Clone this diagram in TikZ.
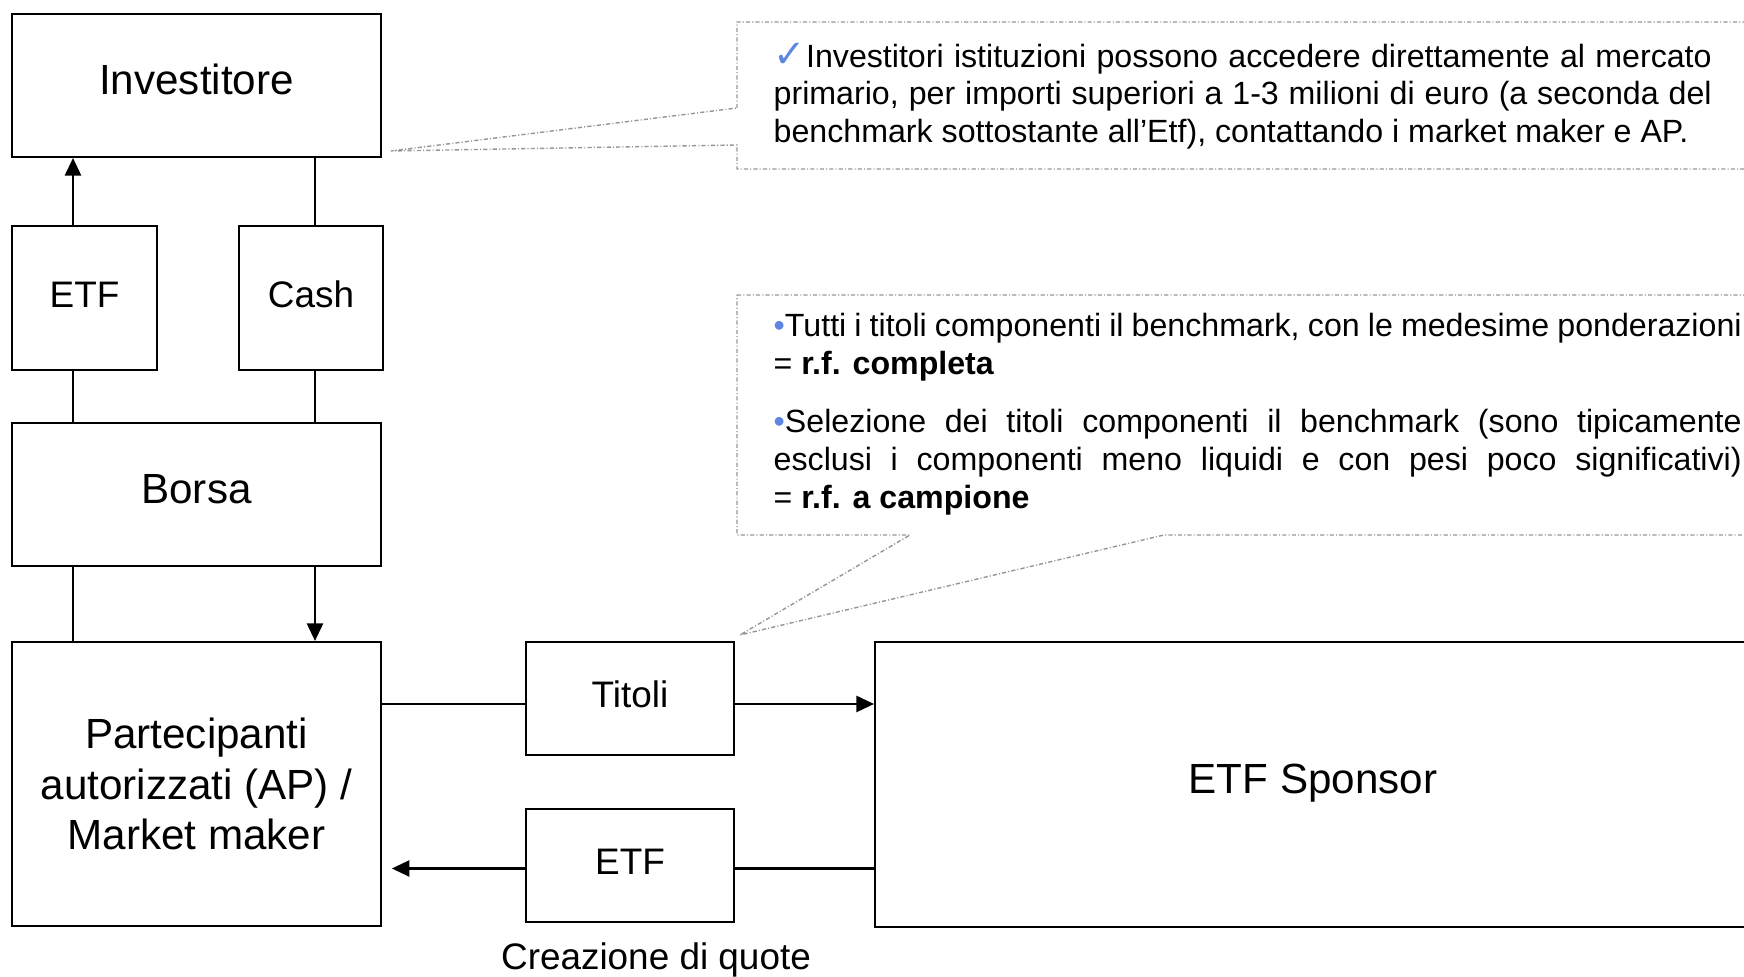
\documentclass[tikz,border=0pt]{standalone}
\usepackage{fontspec}
\setmainfont{Liberation Sans}
\newfontfamily\symfont{DejaVu Sans}
\usetikzlibrary{arrows.meta}
\definecolor{bulblue}{RGB}{95,135,225}
\definecolor{notegray}{RGB}{150,150,150}

\begin{document}
\begin{tikzpicture}[
  box/.style={draw, line width=0.6pt, inner sep=0pt, align=center},
  bigbox/.style={box, font=\fontsize{12}{14.4}\selectfont},
  smallbox/.style={box, font=\fontsize{10.5}{12.6}\selectfont},
  lift/.style={text height=1.5ex, text depth=0.5ex},
  flow/.style={line width=0.6pt},
  arr/.style={flow, -{Triangle[length=5pt,width=4.6pt]}},
  callout/.style={draw=notegray, line width=0.4pt, dash pattern=on 1.2pt off 0.6pt on 0.3pt off 0.6pt},
  note/.style={anchor=north west, inner sep=0pt, align=justify, font=\fontsize{9.15}{10.8}\selectfont}
]
\useasboundingbox (0,0) rectangle (17.44,9.77);

\node[bigbox, lift, minimum width=3.69cm, minimum height=1.43cm] (inv) at (1.965,8.915) {Investitore};
\node[smallbox, lift, minimum width=1.45cm, minimum height=1.44cm] (etfa) at (0.845,6.79) {ETF};
\node[smallbox, lift, minimum width=1.44cm, minimum height=1.44cm] (cash) at (3.11,6.79) {Cash};
\node[bigbox, lift, minimum width=3.69cm, minimum height=1.43cm] (borsa) at (1.965,4.825) {Borsa};
\node[bigbox, minimum width=3.69cm, minimum height=2.84cm] (ap) at (1.965,1.93) {Partecipanti\\autorizzati (AP) /\\Market maker};
\node[smallbox, lift, minimum width=2.08cm, minimum height=1.13cm] (titoli) at (6.30,2.785) {Titoli};
\node[smallbox, lift, minimum width=2.08cm, minimum height=1.13cm] (etfb) at (6.30,1.115) {ETF};
\node[bigbox, lift, minimum width=8.76cm, minimum height=2.85cm] (sponsor) at (13.13,1.925) {ETF Sponsor};
\node[font=\fontsize{10.5}{12.6}\selectfont] (creaz) at (6.56,0.17) {Creazione di quote};

\coordinate (colL) at (0.73,0);
\coordinate (colR) at (3.15,0);
\draw[arr] (etfa.north -| colL) -- (inv.south -| colL);
\draw[flow] (inv.south -| colR) -- (cash.north -| colR);
\draw[flow] (etfa.south -| colL) -- (borsa.north -| colL);
\draw[flow] (cash.south -| colR) -- (borsa.north -| colR);
\draw[flow] (borsa.south -| colL) -- (ap.north -| colL);
\draw[arr] (borsa.south -| colR) -- (ap.north -| colR);
\draw[flow] ([yshift=-0.055cm]ap.east |- titoli.west) -- ([yshift=-0.055cm]titoli.west);
\draw[arr] ([yshift=-0.055cm]titoli.east) -- ([yshift=-0.055cm]sponsor.west |- titoli.east);
\draw[flow] ([yshift=-0.03cm]sponsor.west |- etfb.east) -- ([yshift=-0.03cm]etfb.east);
\draw[arr, shorten >=2.8pt] ([yshift=-0.03cm]etfb.west) -- ([yshift=-0.03cm]ap.east |- etfb.west);

\coordinate (tip1) at (3.91,8.26);
\coordinate (tip2) at (7.40,3.42);
\draw[callout] (7.37,8.69) -- (7.37,9.55) -- (17.6,9.55) -- (17.6,8.08) -- (7.37,8.08) -- (7.37,8.32) -- (tip1) -- cycle;
\draw[callout] (7.37,6.82) -- (17.6,6.82) -- (17.6,4.42) -- (11.64,4.42) -- (tip2) -- (9.10,4.42) -- (7.37,4.42) -- cycle;

\node[note, text width=9.38cm] (note1) at (7.73,9.35) {{\fontsize{11}{11}\symfont\color{bulblue}✓}Investitori istituzioni possono accedere direttamente al mercato\linebreak primario, per importi superiori a 1-3 milioni di euro (a seconda del\linebreak benchmark sottostante all’Etf), contattando i market maker e AP.};
\node[note, text width=9.68cm] (note2) at (7.73,6.64) {{\color{bulblue}•}Tutti i titoli componenti il benchmark, con le medesime ponderazioni\linebreak = \textbf{r.f. completa}\par\vspace{5.7pt}{\color{bulblue}•}Selezione dei titoli componenti il benchmark (sono tipicamente\linebreak esclusi i componenti meno liquidi e con pesi poco significativi)\linebreak = \textbf{r.f. a campione}};
\end{tikzpicture}
\end{document}
